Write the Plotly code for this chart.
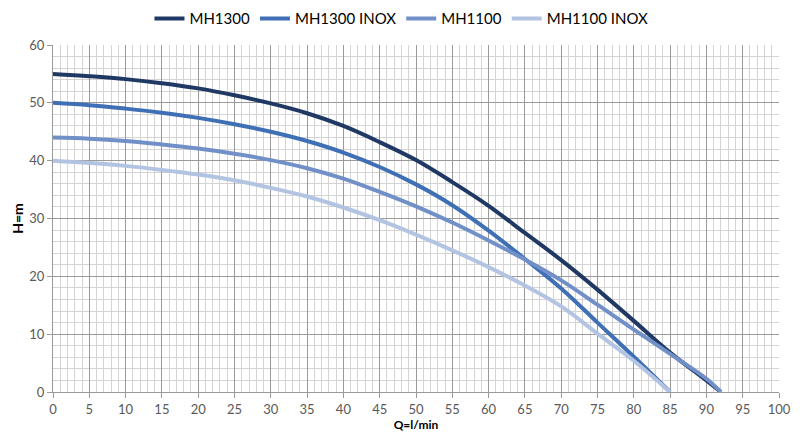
import plotly.graph_objects as go

q_long = [0, 5, 10, 15, 20, 25, 30, 35, 40, 45, 50, 55, 60, 65, 70, 75, 80, 85, 90, 92]
q_short = [0, 5, 10, 15, 20, 25, 30, 35, 40, 45, 50, 55, 60, 65, 70, 75, 80, 85]

mh1300 = [55, 54.6, 54.1, 53.4, 52.5, 51.3, 49.9, 48.2, 46.0, 43.2, 40.1, 36.3, 32.2, 27.5, 22.8, 17.7, 12.3, 6.8, 2.0, 0]
mh1300_inox = [50, 49.6, 49.0, 48.3, 47.4, 46.3, 45.0, 43.4, 41.4, 38.9, 35.9, 32.3, 27.9, 23.0, 17.9, 12.0, 6.1, 0]
mh1100 = [44, 43.8, 43.4, 42.8, 42.1, 41.2, 40.1, 38.7, 36.9, 34.6, 32.1, 29.3, 26.2, 22.9, 19.3, 15.1, 10.8, 6.6, 2.3, 0]
mh1100_inox = [40, 39.6, 39.1, 38.4, 37.6, 36.6, 35.3, 33.8, 31.9, 29.7, 27.2, 24.5, 21.6, 18.4, 14.8, 10.1, 5.4, 0]

series = [
    ("MH1300", q_long, mh1300, "#203864"),
    ("MH1300 INOX", q_short, mh1300_inox, "#3f6fb4"),
    ("MH1100", q_long, mh1100, "#7190c8"),
    ("MH1100 INOX", q_short, mh1100_inox, "#b3c4e2"),
]

fig = go.Figure()
for name, xs, ys, color in series:
    fig.add_trace(go.Scatter(
        x=xs, y=ys, name=name, mode="lines",
        line=dict(color=color, width=4, shape="spline", smoothing=1.0),
    ))

font_family = "Lato, 'Open Sans', sans-serif"

fig.update_layout(
    width=806, height=435,
    margin=dict(l=53, r=27, t=45, b=43, autoexpand=False),
    paper_bgcolor="white", plot_bgcolor="white",
    font=dict(family=font_family, color="#595959"),
    showlegend=True,
    legend=dict(
        orientation="h", x=0.48, xanchor="center",
        yref="container", y=0.995, yanchor="top",
        font=dict(size=15, color="#000000", family=font_family),
        itemwidth=30, tracegroupgap=0,
        bgcolor="rgba(0,0,0,0)",
    ),
    xaxis=dict(
        range=[0, 100], dtick=5, tick0=0, automargin=False,
        showgrid=True, gridcolor="#9a9a9a", gridwidth=1,
        minor=dict(dtick=1, showgrid=True, gridcolor="#d4d4d4", gridwidth=1),
        showline=True, linecolor="#9a9a9a", linewidth=1,
        ticks="outside", ticklen=5, tickcolor="#9a9a9a",
        tickfont=dict(size=13, color="#595959"),
        zeroline=False,
        title=dict(text="<b>Q=l/min</b>", font=dict(size=12, color="#000000"), standoff=4),
    ),
    yaxis=dict(
        range=[0, 60], dtick=10, tick0=0, automargin=False,
        showgrid=True, gridcolor="#9a9a9a", gridwidth=1,
        minor=dict(dtick=2, showgrid=True, gridcolor="#d4d4d4", gridwidth=1),
        showline=True, linecolor="#9a9a9a", linewidth=1,
        ticks="outside", ticklen=5, tickcolor="#9a9a9a",
        tickfont=dict(size=13, color="#595959"),
        zeroline=False,
        title=dict(text="<b>H=m</b>", font=dict(size=14, color="#000000"), standoff=2),
    ),
)

fig.write_html("out.html", config={"displayModeBar": False},
               post_script="document.body.style.margin='0px';")
